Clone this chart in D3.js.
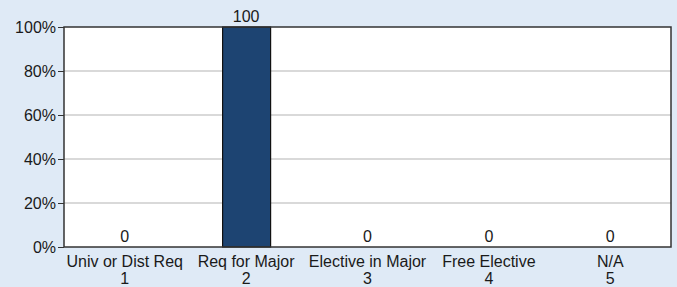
<!DOCTYPE html>
<html>
<head>
<meta charset="utf-8">
<script src="https://cdn.jsdelivr.net/npm/d3@7"></script>
<style>
  html, body { margin: 0; padding: 0; background: #dfeaf6; }
  svg { display: block; }
  text { font-family: "Liberation Sans", Arial, sans-serif; fill: #1a1a1a; }
</style>
</head>
<body>
<svg width="677" height="287"></svg>
<script>
const categories = ["Univ or Dist Req", "Req for Major", "Elective in Major", "Free Elective", "N/A"];
const codes = ["1", "2", "3", "4", "5"];
const values = [0, 100, 0, 0, 0];
const yTicks = [0, 20, 40, 60, 80, 100];

(() => {
    const svg = d3.select("svg");
    const plotLeft = 64, plotRight = 671, plotTop = 27, plotBottom = 247;
    const fontSize = 16;

    const rows = codes.map((c, i) => ({code: c, name: categories[i], value: values[i]}));

    const xc = d3.scaleBand().domain(codes).range([plotLeft, plotRight]);
    const mid = d => xc(d.code) + xc.bandwidth() / 2;
    const barW = 48;

    const y = d3.scaleLinear().domain([0, 100]).range([plotBottom, plotTop]);

    // plot background
    svg.append("rect")
        .attr("x", plotLeft).attr("y", plotTop)
        .attr("width", plotRight - plotLeft).attr("height", plotBottom - plotTop)
        .attr("fill", "#ffffff");

    // gridlines
    svg.append("g")
        .selectAll("line")
        .data(yTicks.filter(d => d > 0 && d < 100))
        .enter().append("line")
        .attr("x1", plotLeft).attr("x2", plotRight)
        .attr("y1", d => y(d)).attr("y2", d => y(d))
        .attr("stroke", "#cccccc")
        .attr("stroke-width", 1.5);

    // bars
    svg.append("g")
        .selectAll("rect")
        .data(rows.filter(d => d.value > 0))
        .enter().append("rect")
        .attr("x", d => mid(d) - barW / 2 + 0.5)
        .attr("y", d => y(d.value))
        .attr("width", barW)
        .attr("height", d => plotBottom - y(d.value))
        .attr("fill", "#1d4472")
        .attr("stroke", "#111")
        .attr("stroke-width", 1.2);

    // plot border
    svg.append("rect")
        .attr("x", plotLeft).attr("y", plotTop)
        .attr("width", plotRight - plotLeft).attr("height", plotBottom - plotTop)
        .attr("fill", "none")
        .attr("stroke", "#333")
        .attr("stroke-width", 1.5);

    // y axis
    const yAxis = d3.axisLeft(y)
        .tickValues(yTicks)
        .tickFormat(d => d + "%")
        .tickSize(6)
        .tickPadding(2);

    const gy = svg.append("g")
        .attr("transform", `translate(${plotLeft},0)`)
        .call(yAxis);
    gy.select(".domain").remove();
    gy.selectAll(".tick line").attr("stroke", "#333");
    gy.selectAll(".tick text")
        .attr("font-size", fontSize)
        .attr("font-family", "Liberation Sans, Arial, sans-serif")
        .attr("fill", "#1a1a1a");

    // value labels
    svg.append("g")
        .selectAll("text")
        .data(rows)
        .enter().append("text")
        .attr("x", mid)
        .attr("y", d => y(d.value) - 5.5)
        .attr("text-anchor", "middle")
        .attr("font-size", fontSize)
        .text(d => d.value);

    // category labels
    const gx = svg.append("g");
    gx.selectAll("text.cat")
        .data(rows)
        .enter().append("text")
        .attr("class", "cat")
        .attr("x", mid)
        .attr("y", 266.5)
        .attr("text-anchor", "middle")
        .attr("font-size", fontSize)
        .text(d => d.name);
    gx.selectAll("text.code")
        .data(rows)
        .enter().append("text")
        .attr("class", "code")
        .attr("x", mid)
        .attr("y", 284)
        .attr("text-anchor", "middle")
        .attr("font-size", fontSize)
        .text(d => d.code);
})();
</script>
</body>
</html>
